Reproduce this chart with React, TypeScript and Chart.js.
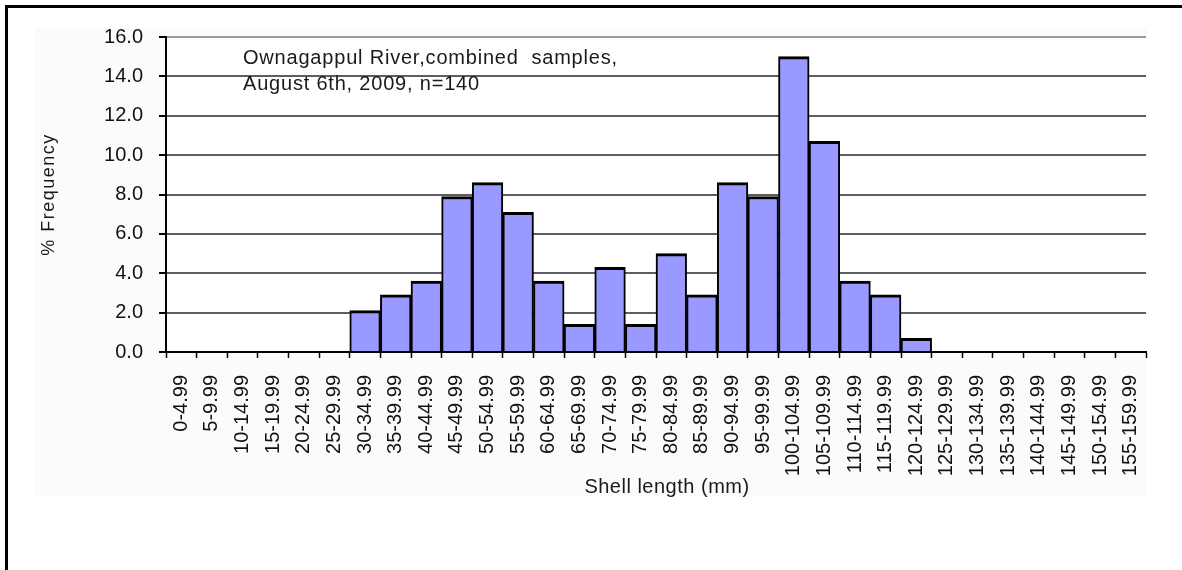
import React, { useEffect, useRef } from "react";
import { Chart, registerables } from "chart.js";

Chart.register(...registerables);

const categories = [
  "0-4.99", "5-9.99", "10-14.99", "15-19.99", "20-24.99", "25-29.99",
  "30-34.99", "35-39.99", "40-44.99", "45-49.99", "50-54.99", "55-59.99",
  "60-64.99", "65-69.99", "70-74.99", "75-79.99", "80-84.99", "85-89.99",
  "90-94.99", "95-99.99", "100-104.99", "105-109.99", "110-114.99", "115-119.99",
  "120-124.99", "125-129.99", "130-134.99", "135-139.99", "140-144.99",
  "145-149.99", "150-154.99", "155-159.99",
];

const frequencies = [
  0, 0, 0, 0, 0, 0,
  2.1, 2.9, 3.6, 7.9, 8.6, 7.1,
  3.6, 1.4, 4.3, 1.4, 5.0, 2.9,
  8.6, 7.9, 15.0, 10.7, 3.6, 2.9,
  0.7, 0, 0, 0, 0, 0, 0, 0,
];

const yMin = 0;
const yMax = 16;
const yStep = 2;

const annotationLines = [
  "Ownagappul River,combined  samples,",
  "August 6th, 2009, n=140",
];
const xTitle = "Shell length (mm)";
const yTitle = "% Frequency";

const FONT = "'Liberation Sans', Arial, sans-serif";

const decorPlugin = {
  id: "decor",
  beforeDraw(chart: any) {
    const { ctx, chartArea, width, height } = chart;
    ctx.save();
    ctx.fillStyle = "#ffffff";
    ctx.fillRect(0, 0, width, height);
    ctx.fillStyle = "#fbfbfb";
    ctx.fillRect(35, 28, 1147 - 35, 497 - 28);
    ctx.fillStyle = "#ffffff";
    ctx.fillRect(
      chartArea.left,
      chartArea.top,
      chartArea.right - chartArea.left,
      chartArea.bottom - chartArea.top
    );
    ctx.restore();
  },
  afterDraw(chart: any) {
    const { ctx, chartArea } = chart;
    ctx.save();
    // annotation
    ctx.fillStyle = "#1a1a1a";
    ctx.font = `20px ${FONT}`;
    (ctx as any).letterSpacing = "0.8px";
    ctx.textAlign = "left";
    ctx.textBaseline = "alphabetic";
    ctx.fillText(annotationLines[0], 243, 64);
    ctx.fillText(annotationLines[1], 243, 90);

    // x title
    (ctx as any).letterSpacing = "0.5px";
    ctx.textAlign = "center";
    ctx.fillText(xTitle, 667, 493);

    // y title
    ctx.save();
    ctx.translate(49, (chartArea.top + chartArea.bottom) / 2);
    ctx.rotate(-Math.PI / 2);
    ctx.font = `18px ${FONT}`;
    (ctx as any).letterSpacing = "1.5px";
    ctx.textAlign = "center";
    ctx.textBaseline = "middle";
    ctx.fillText(yTitle, 0, 0);
    ctx.restore();

    // outer frame (top and left)
    (ctx as any).letterSpacing = "0px";
    ctx.fillStyle = "#000000";
    ctx.fillRect(5, 5, 1177, 3);
    ctx.fillRect(5, 5, 3, 565);
    ctx.restore();
  },
};

export default function App() {
  const canvasRef = useRef<HTMLCanvasElement | null>(null);

  useEffect(() => {
    const canvas = canvasRef.current;
    if (!canvas) return;
    const chart = new Chart(canvas, {
      type: "bar",
      data: {
        labels: categories,
        datasets: [
          {
            data: frequencies,
            backgroundColor: "#9999ff",
            borderColor: "#000000",
            borderWidth: { top: 3, left: 2, right: 2, bottom: 0 },
            borderSkipped: "start",
            barPercentage: 1,
            categoryPercentage: 1,
          },
        ],
      },
      options: {
        animation: false,
        responsive: false,
        devicePixelRatio: 1,
        layout: { padding: { top: 37, right: 36, bottom: 0, left: 0 } },
        plugins: {
          legend: { display: false },
          tooltip: { enabled: false },
          title: { display: false },
        },
        scales: {
          x: {
            offset: true,
            grid: {
              display: true,
              offset: true,
              drawOnChartArea: false,
              drawTicks: true,
              tickLength: 6,
              tickColor: "#000000",
              tickWidth: 1.5,
            },
            border: { display: true, color: "#000000", width: 2 },
            ticks: {
              autoSkip: false,
              minRotation: 90,
              maxRotation: 90,
              padding: 17,
              color: "#111111",
              font: { family: FONT, size: 20 },
            },
            afterFit(scale: any) {
              scale.height = 218;
            },
          },
          y: {
            min: yMin,
            max: yMax,
            grid: {
              color: (c: any) => (c.tick && c.tick.value === yMax ? "#9a9a9a" : "#5e5e5e"),
              lineWidth: 2,
              drawTicks: true,
              tickLength: 7,
              tickColor: "#000000",
              tickWidth: 2,
            },
            border: { display: true, color: "#000000", width: 2 },
            ticks: {
              stepSize: yStep,
              padding: 16,
              color: "#111111",
              font: { family: FONT, size: 20 },
              callback: (v: any) => Number(v).toFixed(1),
            },
            afterFit(scale: any) {
              scale.width = 166;
            },
          },
        },
      },
      plugins: [decorPlugin],
    } as any);
    return () => chart.destroy();
  }, []);

  return (
    <div style={{ position: "absolute", left: 0, top: 0, width: 1182, height: 570, background: "#fff" }}>
      <canvas ref={canvasRef} width={1182} height={570} style={{ display: "block", width: 1182, height: 570 }} />
    </div>
  );
}
